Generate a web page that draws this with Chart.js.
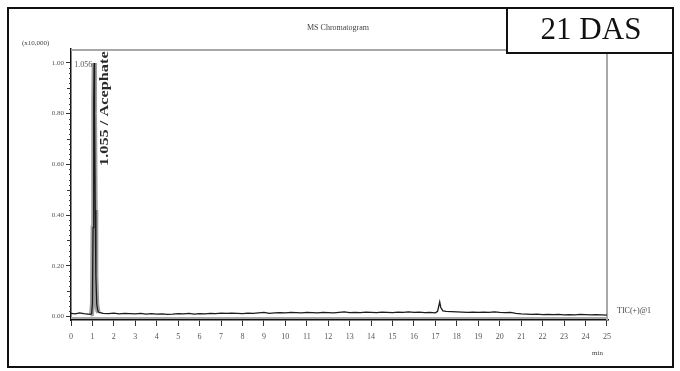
<!DOCTYPE html>
<html>
<head>
<meta charset="utf-8">
<script src="https://cdn.jsdelivr.net/npm/chart.js@4.4.1/dist/chart.umd.min.js"></script>
<style>
  html, body { margin: 0; padding: 0; background: #fff; }
  #wrap { width: 680px; height: 371px; position: relative; }
</style>
</head>
<body>
<div id="wrap"><canvas id="c" width="680" height="371"></canvas></div>
<script>
// ---- data ----
const chartTitle = "MS Chromatogram";
const panelLabel = "21 DAS";
const traceLabel = "TIC(+)@1";
const peakAnnot = "1.055 / Acephate";
const peakTimeLabel = "1.056";
const yUnitLabel = "(x10,000)";
const xUnitLabel = "min";

const xTicks = [0,1,2,3,4,5,6,7,8,9,10,11,12,13,14,15,16,17,18,19,20,21,22,23,24,25];
const yMajorTicks = [0.00, 0.20, 0.40, 0.60, 0.80, 1.00];
const yMinorTicks = [0.02,0.04,0.06,0.08,0.10,0.12,0.14,0.16,0.18,0.22,0.24,0.26,0.28,0.30,0.32,0.34,0.36,0.38,
  0.42,0.44,0.46,0.48,0.50,0.52,0.54,0.56,0.58,0.62,0.64,0.66,0.68,0.70,0.72,0.74,0.76,0.78,
  0.82,0.84,0.86,0.88,0.90,0.92,0.94,0.96,0.98];

const times = [0.0,0.2,0.4,0.6,0.8,0.9,0.96,1.00,1.03,1.06,1.08,1.10,1.13,1.16,1.20,1.25,1.3,
  1.5,1.75,2.0,2.25,2.5,2.75,3.0,3.25,3.5,3.75,4.0,4.25,4.5,4.75,5.0,5.25,5.5,5.75,6.0,6.25,6.5,6.75,
  7.0,7.25,7.5,7.75,8.0,8.25,8.5,8.75,9.0,9.25,9.5,9.75,10.0,10.25,10.5,10.75,11.0,11.25,11.5,11.75,
  12.0,12.25,12.5,12.75,13.0,13.25,13.5,13.75,14.0,14.25,14.5,14.75,15.0,15.25,15.5,15.75,16.0,16.25,
  16.5,16.75,17.0,17.1,17.2,17.25,17.35,17.5,17.75,18.0,18.25,18.5,18.75,19.0,19.25,19.5,19.75,20.0,
  20.25,20.5,20.75,21.0,21.25,21.5,21.75,22.0,22.25,22.5,22.75,23.0,23.25,23.5,23.75,24.0,24.25,24.5,
  24.75,25.0];
const intensity = [0.012,0.010,0.014,0.011,0.009,0.008,0.010,0.05,0.35,0.85,1.00,0.80,0.42,0.16,0.05,0.022,0.016,
  0.012,0.011,0.013,0.010,0.012,0.011,0.010,0.012,0.009,0.011,0.009,0.010,0.008,0.009,0.011,0.010,0.012,0.009,0.011,0.010,0.012,0.011,
  0.013,0.012,0.013,0.012,0.011,0.013,0.012,0.014,0.016,0.012,0.014,0.015,0.014,0.016,0.015,0.014,0.016,0.015,0.014,0.016,
  0.015,0.014,0.016,0.018,0.015,0.016,0.015,0.017,0.016,0.015,0.017,0.016,0.015,0.017,0.016,0.018,0.016,0.017,
  0.015,0.016,0.014,0.020,0.057,0.035,0.022,0.020,0.019,0.018,0.017,0.016,0.017,0.016,0.017,0.016,0.018,0.016,
  0.015,0.016,0.012,0.010,0.009,0.008,0.009,0.007,0.008,0.007,0.008,0.006,0.007,0.006,0.008,0.007,0.006,0.007,
  0.006,0.005];
const peakStartIdx = 5, peakEndIdx = 17;

const trace = times.map((t, i) => ({ x: t, y: intensity[i] }));
const peakBand = trace.slice(peakStartIdx, peakEndIdx);

const decor = {
  id: 'decor',
  beforeDatasetsDraw(chart) {
    const ctx = chart.ctx, a = chart.chartArea;
    ctx.save();
    ctx.strokeStyle = '#a8a8a8';
    ctx.lineWidth = 2;
    ctx.beginPath();
    ctx.moveTo(a.left, a.top + 1); ctx.lineTo(a.right, a.top + 1);
    ctx.moveTo(a.right - 1, a.top); ctx.lineTo(a.right - 1, a.bottom);
    ctx.moveTo(a.left, a.bottom - 2); ctx.lineTo(a.right, a.bottom - 2);
    ctx.stroke();
    const ys = chart.scales.y;
    ctx.strokeStyle = '#333';
    ctx.lineWidth = 1;
    ctx.beginPath();
    yMinorTicks.forEach(v => {
      const py = Math.round(ys.getPixelForValue(v)) + 0.5;
      const len = (Math.abs((v * 100) % 20 - 10) < 0.01) ? 4 : 2;
      ctx.moveTo(a.left - len, py); ctx.lineTo(a.left, py);
    });
    ctx.stroke();
    ctx.restore();
  },
  afterDraw(chart) {
    const ctx = chart.ctx;
    const xs = chart.scales.x, ys = chart.scales.y;
    ctx.save();
    ctx.strokeStyle = '#111';
    ctx.lineWidth = 2;
    ctx.strokeRect(8, 8, 665, 359);
    ctx.fillStyle = '#444';
    ctx.font = '8px "Liberation Serif"';
    ctx.textAlign = 'center';
    ctx.textBaseline = 'middle';
    ctx.fillText(chartTitle, 338, 28);
    ctx.textAlign = 'left';
    ctx.font = '7px "Liberation Serif"';
    ctx.fillText(yUnitLabel, 22, 43);
    ctx.fillText(xUnitLabel, 592, 353);
    ctx.font = '8px "Liberation Serif"';
    ctx.fillText(traceLabel, 617, 311);
    const apexX = xs.getPixelForValue(times[10]);
    const apexY = ys.getPixelForValue(intensity[10]);
    ctx.font = '8px "Liberation Serif"';
    ctx.textAlign = 'right';
    ctx.fillStyle = '#556';
    ctx.fillText(peakTimeLabel, apexX - 2, apexY + 2);
    ctx.save();
    ctx.translate(apexX + 11, 166);
    ctx.rotate(-Math.PI / 2);
    ctx.scale(1.36, 1);
    ctx.textAlign = 'left';
    ctx.fillStyle = '#2a2a2a';
    ctx.font = 'bold 12px "Liberation Serif"';
    ctx.fillText(peakAnnot, 0, 0);
    ctx.restore();
    ctx.fillStyle = '#fff';
    ctx.fillRect(507, 8, 166, 45);
    ctx.strokeStyle = '#111';
    ctx.lineWidth = 2;
    ctx.strokeRect(507, 8, 166, 45);
    ctx.fillStyle = '#111';
    ctx.font = '31px "Liberation Serif"';
    ctx.textAlign = 'center';
    ctx.textBaseline = 'middle';
    ctx.fillText(panelLabel, 591, 31);
    ctx.restore();
  }
};

new Chart(document.getElementById('c'), {
  type: 'line',
  data: {
    datasets: [
      { data: trace, borderColor: '#1a1a1a', borderWidth: 1.3, pointRadius: 0, tension: 0, fill: false, order: 1 },
      { data: peakBand, borderColor: '#a0a0a0', borderWidth: 5, pointRadius: 0, tension: 0, fill: false, order: 2 }
    ]
  },
  options: {
    responsive: false,
    animation: false,
    layout: { padding: { left: 0, top: 49, right: 72, bottom: 0 } },
    plugins: { legend: { display: false }, tooltip: { enabled: false }, title: { display: false } },
    scales: {
      x: {
        type: 'linear', min: 0, max: 25.05,
        afterFit(s) { s.height = 51; },
        afterBuildTicks(s) { s.ticks = xTicks.map(v => ({ value: v })); },
        grid: { drawOnChartArea: false, drawTicks: true, tickLength: 6, color: '#333', tickWidth: 1 },
        border: { display: true, color: '#111', width: 1.5 },
        ticks: { color: '#555', font: { family: 'Liberation Serif', size: 8 }, padding: 6, maxRotation: 0, autoSkip: false,
          callback: v => String(v) }
      },
      y: {
        type: 'linear', min: -0.014, max: 1.055,
        afterFit(s) { s.width = 71; },
        afterBuildTicks(s) { s.ticks = yMajorTicks.map(v => ({ value: v })); },
        grid: { drawOnChartArea: false, drawTicks: true, tickLength: 5, color: '#333', tickWidth: 1 },
        border: { display: true, color: '#111', width: 1.5 },
        ticks: { color: '#555', font: { family: 'Liberation Serif', size: 7 }, padding: 2,
          callback: v => v.toFixed(2) }
      }
    }
  },
  plugins: [decor]
});
</script>
</body>
</html>
